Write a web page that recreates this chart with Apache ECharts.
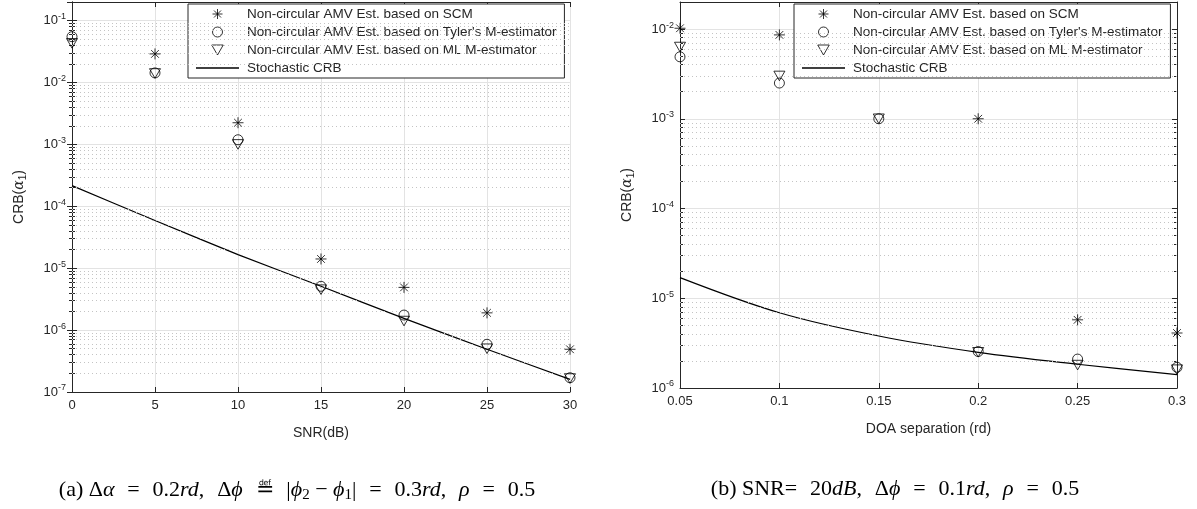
<!DOCTYPE html>
<html>
<head>
<meta charset="utf-8">
<script src="https://cdn.jsdelivr.net/npm/echarts@6/dist/echarts.min.js"></script>
<style>
  html, body { margin: 0; padding: 0; background: #fff; }
  #chart { width: 1197px; height: 509px; }
</style>
</head>
<body>
<div id="chart"></div>
<script>
// (a) 横轴 SNR
var snr = [0, 5, 10, 15, 20, 25, 30];
var scmA = [null, 0.029, 0.00224, 1.41e-5, 4.9e-6, 1.9e-6, 4.9e-7];
var tylerA = [0.055, 0.0143, 0.00119, 5.1e-6, 1.75e-6, 5.9e-7, 1.7e-7];
var mlA = [0.043, 0.014, 0.001, 4.5e-6, 1.4e-6, 5.0e-7, 1.65e-7];
var crbA = [2.16e-4, 5.9e-5, 1.66e-5, 5.1e-6, 1.55e-6, 4.9e-7, 1.6e-7];

// (b) 横轴 DOA separation
var doa = [0.05, 0.1, 0.15, 0.2, 0.25, 0.3];
var scmB = [0.0102, 0.0086, null, 0.001, 5.75e-6, 4.1e-6];
var tylerB = [0.0049, 0.0025, 0.001, 2.55e-6, 2.1e-6, 1.7e-6];
var mlB = [0.0063, 0.003, 0.001, 2.5e-6, 1.8e-6, 1.6e-6];
var crbB = [1.7e-5, 6.9e-6, 3.8e-6, 2.5e-6, 1.84e-6, 1.41e-6];

var names = [
  "Non-circular AMV Est. based on SCM",
  "Non-circular AMV Est. based on Tyler's M-estimator",
  "Non-circular AMV Est. based on ML M-estimator",
  "Stochastic CRB"
];

var axisColor = "#262626";
var font = "Liberation Sans, Arial, sans-serif";
var serif = "Liberation Serif, serif";
var starPath = "path://M0,-10L0,10M-10,0L10,0M-7,-7L7,7M-7,7L7,-7";
var triPath = "path://M0,0L10,0L5,8.7Z";

function pairs(xs, ys) {
  var out = [];
  for (var i = 0; i < xs.length; i++) {
    if (ys[i] != null) out.push([xs[i], ys[i]]);
  }
  return out;
}

// 次网格线 2..9 x 10^n
function minorLines(lo, hi) {
  var out = [];
  for (var n = lo; n < hi; n++) {
    for (var k = 2; k <= 9; k++) {
      out.push({ yAxis: k * Math.pow(10, n) });
    }
  }
  return out;
}

function powLabel(v) {
  var e = Math.round(Math.log10(v));
  if (Math.abs(Math.log10(v) - e) > 1e-6) return "";
  return "{b|10}{s|" + e + "}";
}

function yAxisMain(idx, min, max) {
  return {
    type: "log", gridIndex: idx, min: min, max: max, logBase: 10,
    axisLine: { show: true, lineStyle: { color: axisColor } },
    axisTick: { show: true, inside: true, length: 5, lineStyle: { color: axisColor } },
    minorTick: { show: true, splitNumber: 9, length: 3, lineStyle: { color: axisColor } },
    axisLabel: {
      formatter: powLabel, margin: 6,
      rich: {
        b: { fontSize: 13, color: axisColor, fontFamily: font },
        s: { fontSize: 9, color: axisColor, fontFamily: font, verticalAlign: "top", padding: [0, 0, 8, 0] }
      }
    },
    splitLine: { show: true, lineStyle: { color: "#e3e3e3", width: 1 } },
    name: "CRB({g|α}{sub|1})",
    nameLocation: "middle", nameGap: 44, nameRotate: 90,
    nameTextStyle: {
      fontSize: 14, color: axisColor, fontFamily: font,
      rich: {
        g: { fontSize: 14, color: axisColor, fontFamily: "DejaVu Serif", fontStyle: "italic" },
        sub: { fontSize: 10, color: axisColor, fontFamily: font, verticalAlign: "bottom", padding: [8, 0, 0, 0] }
      }
    }
  };
}

function yAxisRight(idx, min, max) {
  return {
    type: "log", gridIndex: idx, min: min, max: max, logBase: 10, position: "right",
    axisLine: { show: true, lineStyle: { color: axisColor } },
    axisTick: { show: true, inside: true, length: 5, lineStyle: { color: axisColor } },
    minorTick: { show: true, splitNumber: 9, length: 3, lineStyle: { color: axisColor } },
    axisLabel: { show: false }, splitLine: { show: false }
  };
}

function xAxisMain(idx, min, max, interval, title) {
  return {
    type: "value", gridIndex: idx, min: min, max: max, interval: interval,
    axisLine: { show: true, onZero: false, lineStyle: { color: axisColor } },
    axisTick: { show: true, inside: true, length: 5, lineStyle: { color: axisColor } },
    axisLabel: {
      color: axisColor, fontSize: 13, fontFamily: font, margin: 7,
      formatter: function (v) { return String(parseFloat(v.toFixed(2))); }
    },
    splitLine: { show: true, lineStyle: { color: "#e3e3e3", width: 1 } },
    name: title, nameLocation: "middle", nameGap: 34,
    nameTextStyle: { fontSize: 14, color: axisColor, fontFamily: font }
  };
}

function xAxisTop(idx, min, max, interval) {
  return {
    type: "value", gridIndex: idx, min: min, max: max, interval: interval, position: "top",
    axisLine: { show: true, onZero: false, lineStyle: { color: axisColor } },
    axisTick: { show: true, inside: true, length: 5, lineStyle: { color: axisColor } },
    axisLabel: { show: false }, splitLine: { show: false }
  };
}

function scatter(name, idx, data, symbol, size) {
  return {
    name: name, type: "scatter", xAxisIndex: idx * 2, yAxisIndex: idx * 2,
    data: data, symbol: symbol, symbolSize: size, symbolKeepAspect: true,
    itemStyle: { color: "rgba(0,0,0,0)", borderColor: "#000", borderWidth: 1 },
    z: 5
  };
}

function seriesFor(idx, xs, scm, tyler, ml, crb, smooth, lo, hi) {
  return [
    {
      type: "line", xAxisIndex: idx * 2, yAxisIndex: idx * 2, data: [], silent: true,
      markLine: {
        silent: true, precision: 12, symbol: ["none", "none"], label: { show: false },
        lineStyle: { type: [1, 3], color: "#c4c4c4", width: 1 },
        emphasis: { disabled: true },
        data: minorLines(lo, hi)
      },
      z: 1
    },
    scatter(names[0], idx, pairs(xs, scm), starPath, 11),
    scatter(names[1], idx, pairs(xs, tyler), "circle", 10),
    scatter(names[2], idx, pairs(xs, ml), triPath, 11),
    {
      name: names[3], type: "line", xAxisIndex: idx * 2, yAxisIndex: idx * 2,
      data: pairs(xs, crb), symbol: "none", smooth: smooth,
      itemStyle: { color: "#000" },
      lineStyle: { color: "#000", width: 1.2 }, z: 4
    }
  ];
}

function legendAt(left) {
  return {
    data: [
      { name: names[0] },
      { name: names[1] },
      { name: names[2] },
      { name: names[3], icon: "path://M0,0L43,0L43,1.5L0,1.5Z", itemStyle: { color: "#000", borderWidth: 0 } }
    ],
    orient: "vertical", left: left, top: 4,
    itemWidth: 43, itemHeight: 10, itemGap: 4,
    padding: [3, 8, 3, 8],
    backgroundColor: "#fff", borderColor: axisColor, borderWidth: 1,
    itemStyle: { borderWidth: 1 },
    textStyle: { fontSize: 13.5, color: axisColor, fontFamily: font, padding: [0, 0, 0, 3] },
    selectedMode: false
  };
}

var chart = echarts.init(document.getElementById("chart"));

var capStyle = {
  fontSize: 22, fontWeight: "normal", color: "#000", fontFamily: serif,
  rich: {
    i: { fontSize: 22, fontStyle: "italic", fontFamily: serif, color: "#000" },
    sub: { fontSize: 15, fontFamily: serif, color: "#000", verticalAlign: "bottom", padding: [10, 0, 0, 0] }
  }
};

var sp = "\u2002\u200A";

var option = {
  backgroundColor: "#fff",
  animation: false,
  grid: [
    { left: 72, top: 2, width: 498, height: 390, show: false },
    { left: 680, top: 2, width: 497, height: 386, show: false }
  ],
  xAxis: [
    xAxisMain(0, 0, 30, 5, "SNR(dB)"),
    xAxisTop(0, 0, 30, 5),
    xAxisMain(1, 0.05, 0.3, 0.05, "DOA separation (rd)"),
    xAxisTop(1, 0.05, 0.3, 0.05)
  ],
  yAxis: [
    yAxisMain(0, 1e-7, 0.2),
    yAxisRight(0, 1e-7, 0.2),
    yAxisMain(1, 1e-6, 0.02),
    yAxisRight(1, 1e-6, 0.02)
  ],
  legend: [legendAt(188), legendAt(794)],
  title: [
    {
      text: "(a) Δ{i|α}" + sp + "=" + sp + "0.2{i|rd}," + sp + "Δ{i|ϕ}" + sp + "≝" + sp +
        "|{i|ϕ}{sub|2} − {i|ϕ}{sub|1}|" + sp + "=" + sp + "0.3{i|rd}," + sp + "{i|ρ}" + sp + "=" + sp + "0.5",
      left: 292, top: 473, textAlign: "center",
      textStyle: capStyle
    },
    {
      text: "(b) SNR=" + sp + "20{i|dB}," + sp + "Δ{i|ϕ}" + sp + "=" + sp + "0.1{i|rd}," + sp + "{i|ρ}" + sp + "=" + sp + "0.5",
      left: 890, top: 473, textAlign: "center",
      textStyle: capStyle
    }
  ],
  series: [].concat(
    seriesFor(0, snr, scmA, tylerA, mlA, crbA, 0.15, -7, -1),
    seriesFor(1, doa, scmB, tylerB, mlB, crbB, 0.35, -6, -2)
  )
};

chart.setOption(option);
</script>
</body>
</html>
